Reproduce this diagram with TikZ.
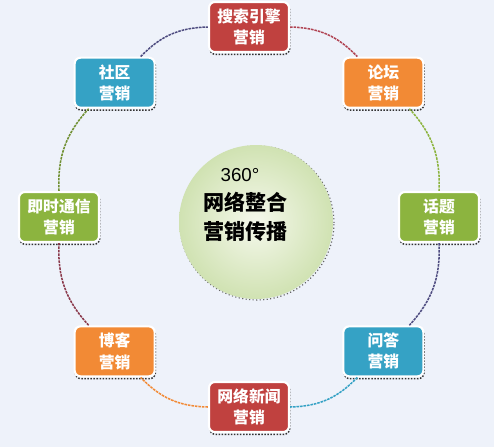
\documentclass[tikz,border=0pt]{standalone}
\usepackage{fontspec}
\usepackage{tikz}
\setmainfont{Liberation Sans}
\newfontfamily\cjk{Noto Sans CJK SC}
\definecolor{bgcol}{HTML}{EEF2FA}
\definecolor{boxred}{HTML}{C0413F}
\definecolor{boxorange}{HTML}{F28A35}
\definecolor{boxgreen}{HTML}{8CB43F}
\definecolor{boxblue}{HTML}{35A2C5}
\definecolor{linered}{HTML}{B04352}
\definecolor{linenavy}{HTML}{4E4C80}
\definecolor{lineplum}{HTML}{8B3A4C}
\definecolor{hubin}{HTML}{F5F8EC}
\definecolor{hubout}{HTML}{D0E2B2}
\tikzset{
  mbox/.style={rectangle, rounded corners=5pt, draw=white, line width=1.8pt,
    minimum width=2.4cm, minimum height=1.5cm, inner sep=2pt, align=center,
    text=white, font=\cjk\bfseries\fontsize{13.5}{18}\selectfont,
    preaction={draw=black!80, line width=1.3pt, dash pattern=on 1.3pt off 1.3pt,
      transform canvas={xshift=0.6pt, yshift=-2pt}}},
  ring/.style={dash pattern=on 2.2pt off 0.8pt, line width=1.3pt},
}
\begin{document}
\begin{tikzpicture}[y=-1cm]
\useasboundingbox (0,0) rectangle (14.82,13.41);
\fill[bgcol] (0,0) rectangle (14.82,13.41);

% centre circle:
\node[circle, minimum size=4.62cm, inner sep=0pt, shading=radial,
  inner color=hubin, outer color=hubout,
  preaction={draw=black!60, dotted, line width=1pt,
    transform canvas={xshift=0.8pt, yshift=-0.8pt}}] (hub) at (7.68,6.66) {};
\node[font=\fontsize{16}{18}\selectfont] (deg) at (7.2,5.25) {360°};
\node[align=center, font=\cjk\bfseries\fontsize{18}{25}\selectfont] (title) at (7.36,6.5) {网络整合\\营销传播};

% boxes on the ring:
\node[mbox, fill=boxred] (search) at (7.47,0.81) {搜索引擎\\营销};
\node[mbox, fill=boxorange] (forum) at (11.50,2.48) {论坛\\营销};
\node[mbox, fill=boxgreen] (topic) at (13.17,6.51) {话题\\营销};
\node[mbox, fill=boxblue] (qa) at (11.50,10.54) {问答\\营销};
\node[mbox, fill=boxred] (news) at (7.47,12.21) {网络新闻\\营销};
\node[mbox, fill=boxorange] (blog) at (3.44,10.54) {博客\\营销};
\node[mbox, fill=boxgreen] (im) at (1.77,6.51) {即时通信\\营销};
\node[mbox, fill=boxblue] (sns) at (3.44,2.48) {社区\\营销};

% ring segments:
\draw[ring, linered] (search) to[bend left=22.5] (forum);
\draw[ring, boxgreen] (forum) to[bend left=22.5] (topic);
\draw[ring, linenavy] (topic) to[bend left=22.5] (qa);
\draw[ring, boxblue] (qa) to[bend left=22.5] (news);
\draw[ring, boxorange] (news) to[bend left=22.5] (blog);
\draw[ring, lineplum] (blog) to[bend left=22.5] (im);
\draw[ring, boxgreen!80!black] (im) to[bend left=22.5] (sns);
\draw[ring, linenavy] (sns) to[bend left=22.5] (search);

\end{tikzpicture}
\end{document}
